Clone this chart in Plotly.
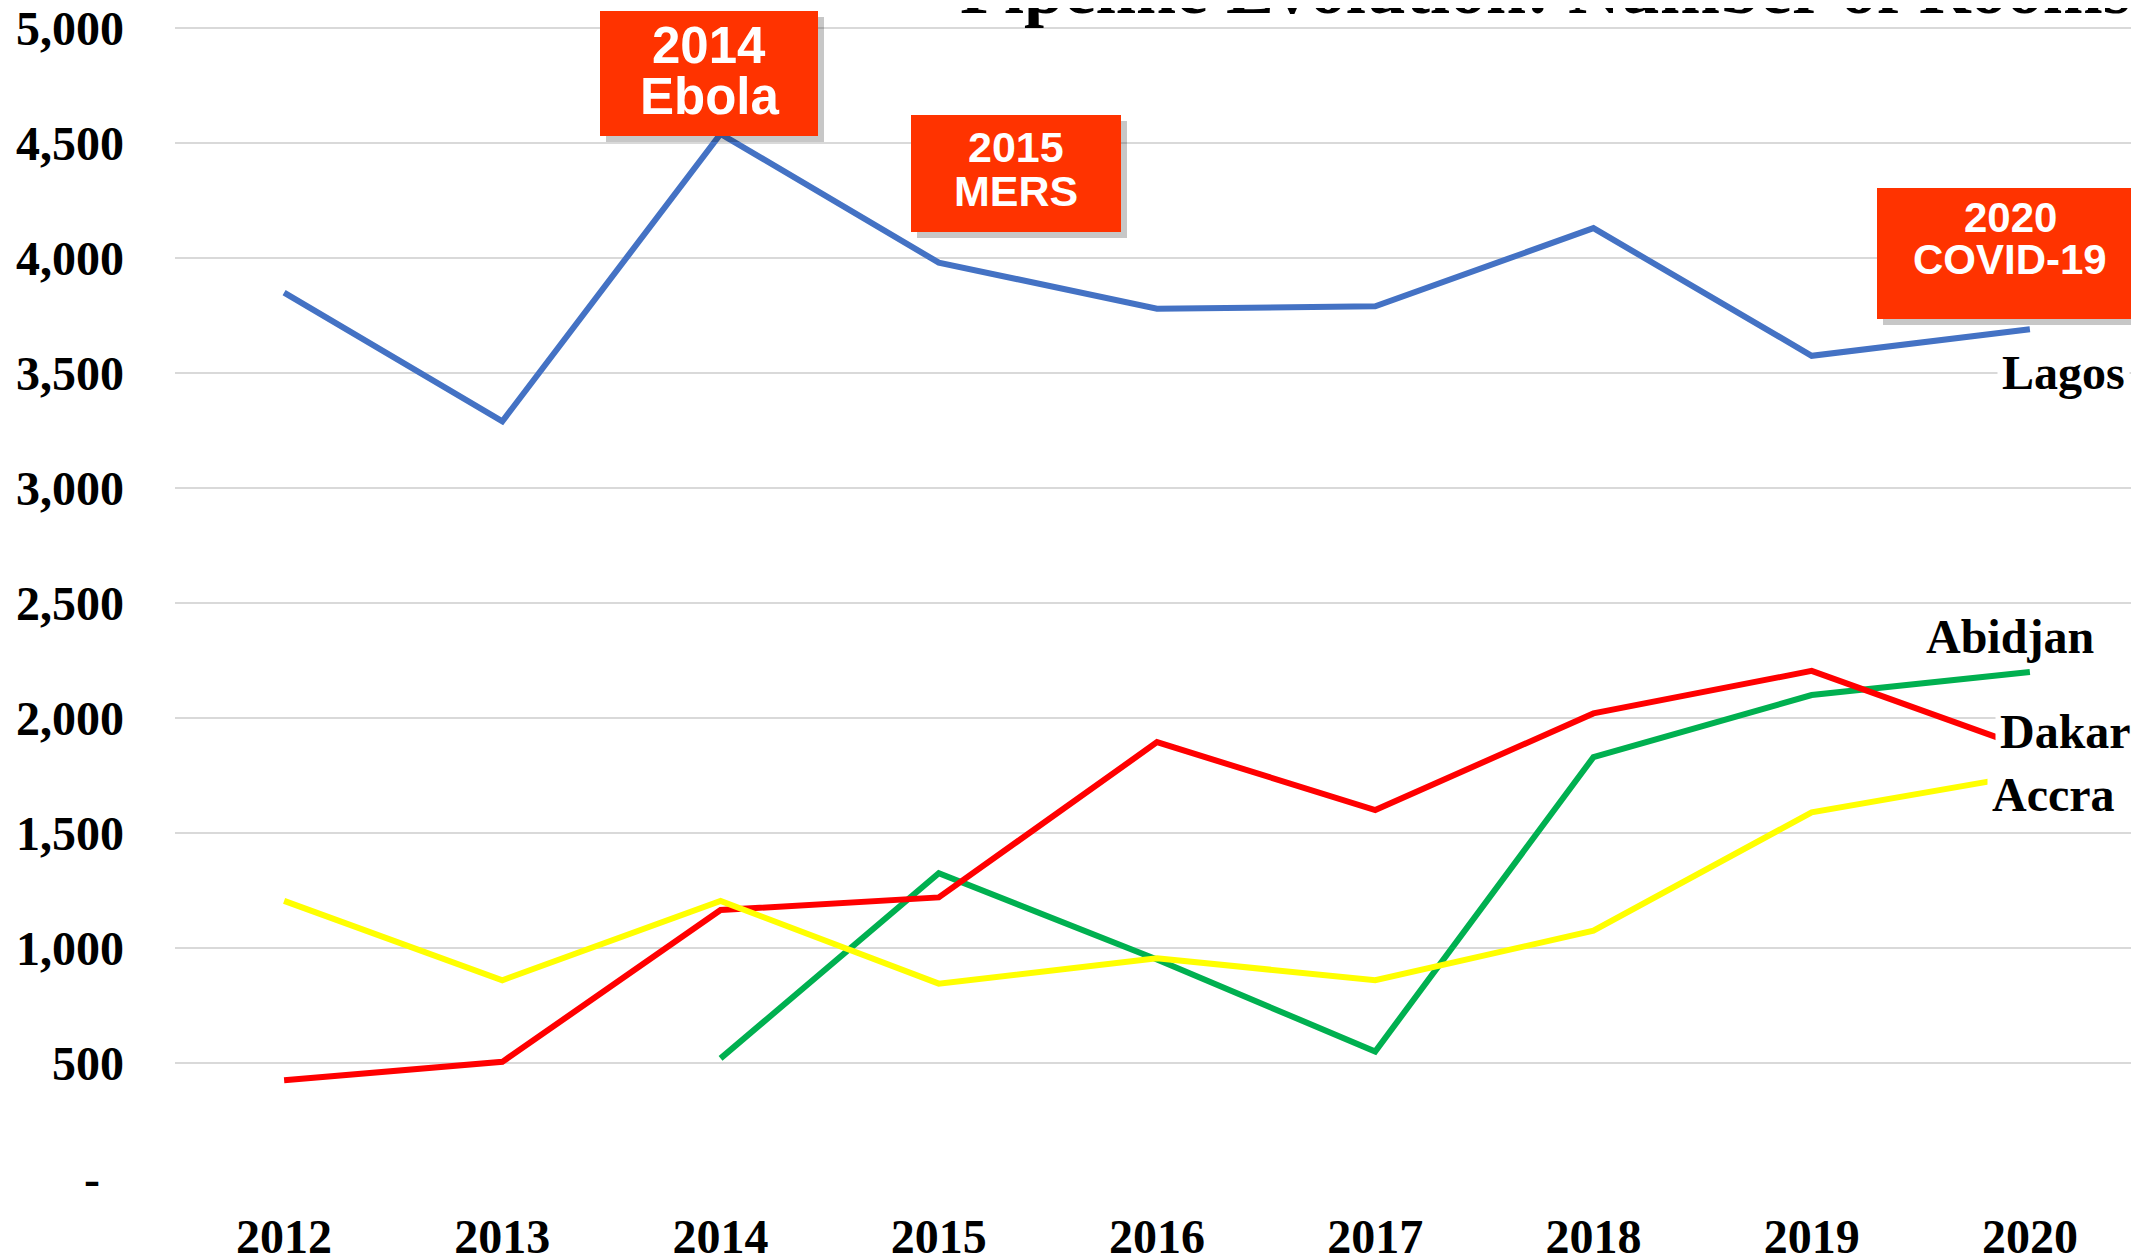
import plotly.graph_objects as go

# --- data -------------------------------------------------------------
years = ["2012", "2013", "2014", "2015", "2016", "2017", "2018", "2019", "2020"]

lagos = [3850, 3290, 4540, 3980, 3780, 3790, 4130, 3575, 3690]
abidjan = [None, None, 520, 1325, 950, 550, 1830, 2100, 2200]
dakar = [425, 505, 1165, 1220, 1895, 1600, 2020, 2205, 1865]
accra = [1205, 860, 1205, 845, 955, 860, 1075, 1590, 1755]

y_ticks = [0, 500, 1000, 1500, 2000, 2500, 3000, 3500, 4000, 4500, 5000]
y_tick_text = ["-\u00a0\u00a0", "500", "1,000", "1,500", "2,000", "2,500",
               "3,000", "3,500", "4,000", "4,500", "5,000"]

events = [
    ("2014", "Ebola"),
    ("2015", "MERS"),
    ("2020", "COVID-19"),
]

# --- figure geometry ---------------------------------------------------
# the page body has an 8px margin, so the figure is a bit smaller than the
# window and positions below are given in page pixels.
# the y range runs a little past 5,000 so the top gridline gets drawn.
OFF = 8
W, H = 2139 - OFF, 1254 - OFF
L, R, T, B = 175 - OFF, 0, 23 - OFF, 76
PW, PH = W - L - R, H - T - B


def px_x(x):
    return (x - OFF - L) / PW


def px_y(y):
    return (H - B - (y - OFF)) / PH


SERIF = "Liberation Serif, Times New Roman, serif"
SANS = "Liberation Sans, Arial, sans-serif"

fig = go.Figure()

series = [
    ("Lagos", lagos, "#4472C4"),
    ("Abidjan", abidjan, "#00B050"),
    ("Dakar", dakar, "#FF0000"),
    ("Accra", accra, "#FFFF00"),
]
for name, vals, color in series:
    fig.add_trace(go.Scatter(
        x=years, y=vals, name=name, mode="lines",
        line=dict(color=color, width=6),
        connectgaps=False, showlegend=False,
    ))

annotations = []
shapes = []

# series labels on white backgrounds (cover the line ends / gridlines)
labels = [
    ("Lagos", 2003, 372),
    ("Abidjan", 1927, 636),
    ("Dakar", 2001, 731),
    ("Accra", 1993, 794),
]
for text, lx, ly in labels:
    annotations.append(dict(
        xref="paper", yref="paper", x=px_x(lx - 6), y=px_y(ly),
        xanchor="left", yanchor="middle", text="<b>" + text + "</b>",
        showarrow=False,
        font=dict(family=SERIF, size=48, color="black"),
        bgcolor="white", borderpad=4,
    ))

# red event boxes: box (x0, y0, x1, y1), text line centres, font size
boxes = [
    ((600, 11, 818, 136), (45, 97), 51),
    ((911, 115, 1121, 232), (147, 191), 43),
    ((1877, 188, 2143, 319), (217, 260), 42),
]
for (line1, line2), ((x0, y0, x1, y1), (c1, c2), fsize) in zip(events, boxes):
    shapes.append(dict(
        type="rect", xref="paper", yref="paper",
        x0=px_x(x0 + 6), x1=px_x(x1 + 6), y0=px_y(y0 + 6), y1=px_y(y1 + 6),
        fillcolor="rgba(0,0,0,0.22)", line=dict(width=0), layer="above",
    ))
    shapes.append(dict(
        type="rect", xref="paper", yref="paper",
        x0=px_x(x0), x1=px_x(x1), y0=px_y(y0), y1=px_y(y1),
        fillcolor="#FF3300", line=dict(width=0), layer="above",
    ))
    for txt, cy in ((line1, c1), (line2, c2)):
        annotations.append(dict(
            xref="paper", yref="paper",
            x=px_x((x0 + x1) / 2), y=px_y(cy),
            xanchor="center", yanchor="middle",
            text="<b>" + txt + "</b>", showarrow=False,
            font=dict(family=SANS, size=fsize, color="white"),
        ))

# title, mostly cut off at the top of the page
annotations.append(dict(
    xref="paper", yref="paper", x=px_x(1545), y=px_y(31),
    xanchor="center", yanchor="bottom", showarrow=False,
    text="<b>Pipeline Evolution: Number of Rooms</b>",
    font=dict(family=SERIF, size=72, color="black"),
))

tick_font = dict(family=SERIF, size=48, color="black", weight="bold")

fig.update_layout(
    width=W, height=H,
    margin=dict(l=L, r=R, t=T, b=B),
    paper_bgcolor="white", plot_bgcolor="white",
    annotations=annotations, shapes=shapes,
    xaxis=dict(
        type="category", range=[-0.5, 8.5], automargin=False,
        showgrid=False, zeroline=False, showline=False,
        tickfont=tick_font, ticklabelstandoff=26,
        ticklabeloverflow="allow",
    ),
    yaxis=dict(
        range=[0, 5022], tickvals=y_ticks, ticktext=y_tick_text,
        automargin=False,
        showgrid=True, gridcolor="#D9D9D9", gridwidth=2,
        zeroline=False, showline=False,
        tickfont=tick_font, ticklabelstandoff=50,
        ticklabeloverflow="allow",
    ),
)

fig.write_html("out.html")
